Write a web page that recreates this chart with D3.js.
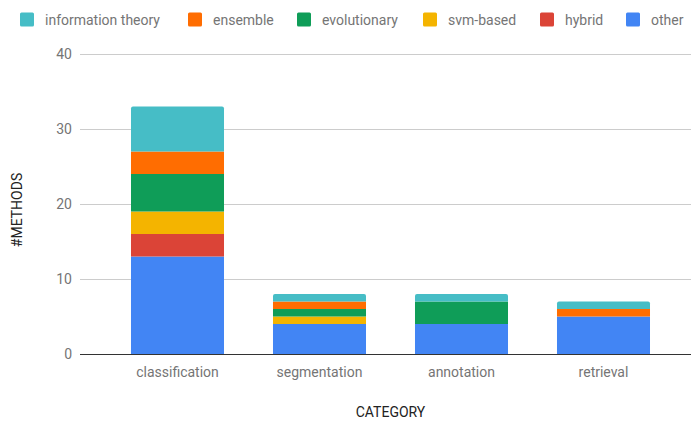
<!DOCTYPE html>
<html>
<head>
<meta charset="utf-8">
<script src="https://cdn.jsdelivr.net/npm/d3@7"></script>
<style>
  html, body { margin: 0; padding: 0; background: #fff; }
  svg { display: block; font-family: Roboto, "Noto Sans", Arial, sans-serif; }
</style>
</head>
<body>
<svg id="chart" width="691" height="425"></svg>
<script>
// Categories along the x axis
const categories = ["classification", "segmentation", "annotation", "retrieval"];

// Series, stacked bottom-to-top in this order
const seriesNames = ["other", "hybrid", "svm-based", "evolutionary", "ensemble", "information theory"];
const other            = [13, 4, 4, 5];
const hybrid           = [3, 0, 0, 0];
const svmBased         = [3, 1, 0, 0];
const evolutionary     = [5, 1, 3, 0];
const ensemble         = [3, 1, 0, 1];
const informationTheory = [6, 1, 1, 1];

const yTicks = [0, 10, 20, 30, 40];

// Legend order (left to right)
const legendOrder = ["information theory", "ensemble", "evolutionary", "svm-based", "hybrid", "other"];

const colors = {
  "other": "#4285F4",
  "hybrid": "#DB4437",
  "svm-based": "#F4B400",
  "evolutionary": "#0F9D58",
  "ensemble": "#FF6D01",
  "information theory": "#46BDC6"
};

const seriesValues = [other, hybrid, svmBased, evolutionary, ensemble, informationTheory];
const rows = categories.map((c, i) => {
  const r = { category: c };
  seriesNames.forEach((s, k) => { r[s] = seriesValues[k][i]; });
  return r;
});

const svg = d3.select("#chart");

const x = d3.scaleBand()
  .domain(categories)
  .range([106.5, 674.5])
  .paddingInner(0.345)
  .paddingOuter(0.1725);

const y = d3.scaleLinear().domain([0, 40]).range([354, 54]);

// Gridlines
svg.append("g")
  .selectAll("line")
  .data(yTicks.filter(t => t !== 0))
  .join("line")
  .attr("x1", 80).attr("x2", 691)
  .attr("y1", d => y(d) + 0.5).attr("y2", d => y(d) + 0.5)
  .attr("stroke", "#cccccc").attr("stroke-width", 1);

// Y tick labels
svg.append("g")
  .selectAll("text")
  .data(yTicks)
  .join("text")
  .attr("x", 72)
  .attr("y", d => y(d))
  .attr("dy", "0.35em")
  .attr("text-anchor", "end")
  .attr("font-size", 14)
  .attr("fill", "#757575")
  .text(d => d);

// Stacked bars
const stack = d3.stack().keys(seriesNames);
const stacked = stack(rows);

// Top-most non-zero segment per category gets rounded top corners
const topKey = {};
rows.forEach(r => {
  let k = null;
  seriesNames.forEach(s => { if (r[s] > 0) k = s; });
  topKey[r.category] = k;
});

function segPath(x0, x1, yTop, yBot, rounded) {
  const r = rounded ? 2 : 0;
  return `M${x0},${yBot}L${x0},${yTop + r}` +
    (r ? `Q${x0},${yTop} ${x0 + r},${yTop}` : "") +
    `L${x1 - r},${yTop}` +
    (r ? `Q${x1},${yTop} ${x1},${yTop + r}` : "") +
    `L${x1},${yBot}Z`;
}

svg.append("g")
  .selectAll("g")
  .data(stacked)
  .join("g")
  .attr("fill", d => colors[d.key])
  .each(function(layer) {
    d3.select(this).selectAll("path")
      .data(layer.filter(d => d[1] - d[0] > 0))
      .join("path")
      .attr("d", d => {
        const cat = d.data.category;
        const x0 = x(cat), x1 = x(cat) + x.bandwidth();
        return segPath(x0, x1, y(d[1]), y(d[0]), topKey[cat] === layer.key);
      });
  });

// Baseline
svg.append("line")
  .attr("x1", 80).attr("x2", 691)
  .attr("y1", y(0) + 0.5).attr("y2", y(0) + 0.5)
  .attr("stroke", "#333333").attr("stroke-width", 1);

// X tick labels
svg.append("g")
  .selectAll("text")
  .data(categories)
  .join("text")
  .attr("x", d => x(d) + x.bandwidth() / 2)
  .attr("y", 372)
  .attr("dy", "0.35em")
  .attr("text-anchor", "middle")
  .attr("font-size", 14)
  .attr("fill", "#757575")
  .text(d => d);

// Axis titles
svg.append("text")
  .attr("x", 390.5).attr("y", 412)
  .attr("dy", "0.35em")
  .attr("text-anchor", "middle")
  .attr("font-size", 14)
  .attr("fill", "#222222")
  .text("CATEGORY");

svg.append("text")
  .attr("transform", "translate(17,210) rotate(-90)")
  .attr("dy", "0.35em")
  .attr("text-anchor", "middle")
  .attr("font-size", 14)
  .attr("fill", "#222222")
  .text("#METHODS");

// Legend
const legendX = [20, 188, 297, 423, 540, 626];
const legend = svg.append("g")
  .selectAll("g")
  .data(legendOrder)
  .join("g")
  .attr("transform", (d, i) => `translate(${legendX[i]},0)`);

legend.append("rect")
  .attr("x", 0).attr("y", 12.5)
  .attr("width", 14).attr("height", 14)
  .attr("rx", 1.5)
  .attr("fill", d => colors[d]);

legend.append("text")
  .attr("x", 25).attr("y", 20)
  .attr("dy", "0.35em")
  .attr("font-size", 14)
  .attr("fill", "#757575")
  .text(d => d);
</script>
</body>
</html>
